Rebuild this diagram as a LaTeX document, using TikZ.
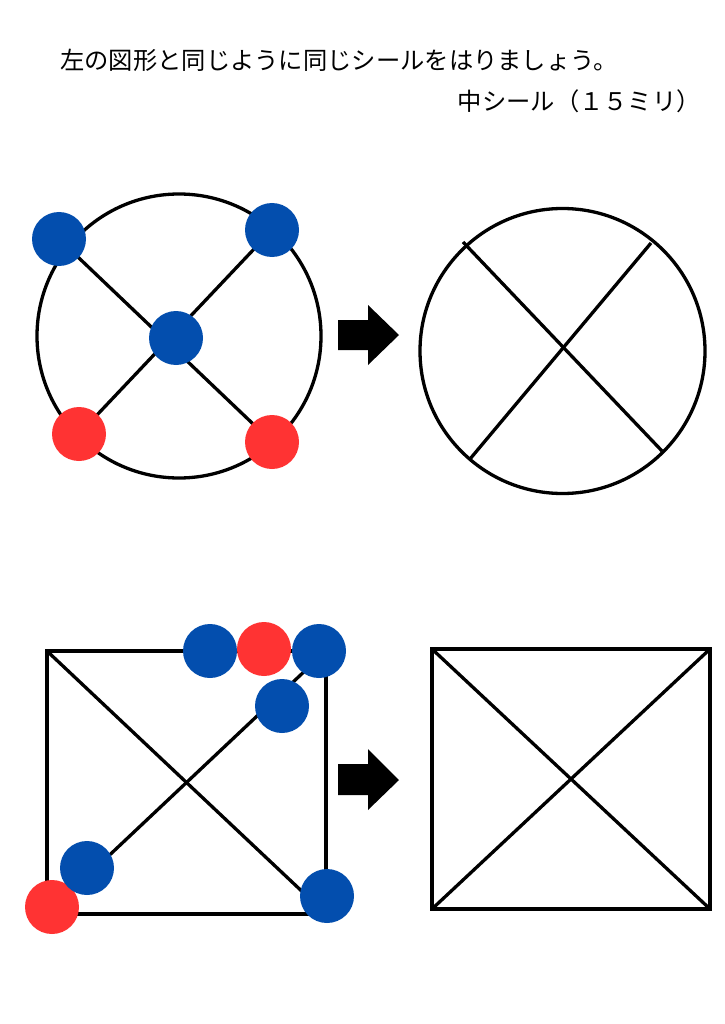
\documentclass[tikz,border=0pt]{standalone}
\usepackage{fontspec}
\newfontfamily\jpfont{Noto Sans CJK JP}
\definecolor{dotblue}{RGB}{3,78,174}
\definecolor{dotred}{RGB}{255,51,51}
\begin{document}
\begin{tikzpicture}[x=1pt,y=-1pt,
  line/.style={line width=3.3pt},
  bdot/.style={circle,fill=dotblue,inner sep=0pt,minimum size=54pt},
  rdot/.style={circle,fill=dotred,inner sep=0pt,minimum size=54pt},
  label/.style={inner sep=0pt,font=\jpfont\fontsize{24.3}{29}\selectfont},
  bigarrow/.style={fill=black}]
\useasboundingbox (0,0) rectangle (724,1024);
\fill[white] (0,0) rectangle (724,1024);

% texts
\node[label,anchor=west] (title) at (60,60) {左の図形と同じように同じシールをはりましょう。};
\node[label,anchor=east] (sub) at (701,101) {中シール（１５ミリ）};

% ---------- top left: circle with stickers ----------
\draw[line] (179,336) circle (142);
\coordinate (c1tl) at (59,239);
\coordinate (c1tr) at (272,230);
\coordinate (c1bl) at (79,434);
\coordinate (c1br) at (272,442);
\draw[line] (c1tl) -- (c1br);
\draw[line] (c1tr) -- (c1bl);
\node[bdot] (d1) at (c1tl) {};
\node[bdot] (d2) at (c1tr) {};
\node[bdot] (d3) at (176,338) {};
\node[rdot] (d4) at (c1bl) {};
\node[rdot] (d5) at (c1br) {};

% arrow 1
\fill[bigarrow] (338,320) -- (368,320) -- (368,305) -- (399,335) -- (368,365) -- (368,350) -- (338,350) -- cycle;

% ---------- top right: empty circle ----------
\draw[line] (562.5,351) circle (142.5);
\coordinate (c2a) at (463,242);
\coordinate (c2b) at (662,451);
\coordinate (c2c) at (651,243);
\coordinate (c2d) at (470,459);
\draw[line] (c2a) -- (c2b);
\draw[line] (c2c) -- (c2d);

% ---------- bottom left: square with stickers ----------
\coordinate (s1tl) at (47,651);
\coordinate (s1tr) at (326,651);
\coordinate (s1br) at (326,914);
\coordinate (s1bl) at (47,914);
\draw[line] (s1tl) -- (s1tr) -- (s1br) -- (s1bl) -- cycle;
\draw[line] (s1tl) -- (s1br);
\draw[line] (s1bl) -- (s1tr);
\node[bdot] (e1) at (210,651) {};
\node[rdot] (e2) at (264,649) {};
\node[bdot] (e3) at (319,651) {};
\node[bdot] (e4) at (282,706) {};
\node[rdot] (e5) at (52,907) {};
\node[bdot] (e6) at (87,868) {};
\node[bdot] (e7) at (327,896) {};

% arrow 2
\fill[bigarrow] (338,764) -- (368,764) -- (368,749) -- (399,780) -- (368,810) -- (368,795) -- (338,795) -- cycle;

% ---------- bottom right: empty square ----------
\coordinate (s2tl) at (432,649);
\coordinate (s2tr) at (710,649);
\coordinate (s2br) at (710,909);
\coordinate (s2bl) at (432,909);
\draw[line] (s2tl) -- (s2tr) -- (s2br) -- (s2bl) -- cycle;
\draw[line] (s2tl) -- (s2br);
\draw[line] (s2bl) -- (s2tr);
\end{tikzpicture}
\end{document}
